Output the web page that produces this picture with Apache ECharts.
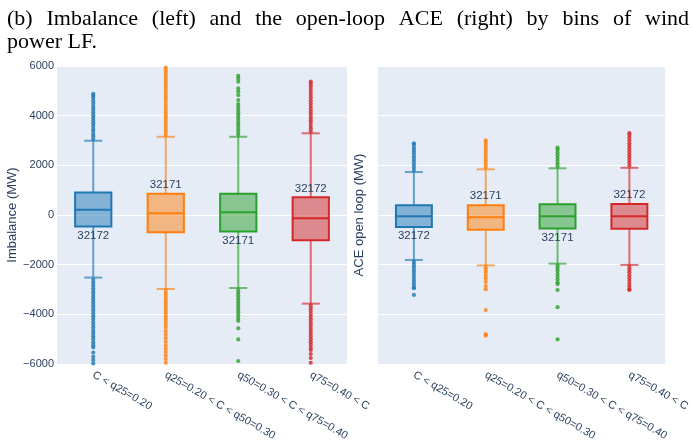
<!DOCTYPE html>
<html>
<head>
<meta charset="utf-8">
<script src="https://cdn.jsdelivr.net/npm/echarts@6/dist/echarts.min.js"></script>
<style>
  html, body { margin: 0; padding: 0; background: #ffffff; }
  #chart { width: 692px; height: 446px; }
</style>
</head>
<body>
<div id="chart"></div>
<script>
// Wind power load-factor bins
const categories = ['C < q25=0.20', 'q25=0.20 < C < q50=0.30', 'q50=0.30 < C < q75=0.40', 'q75=0.40 < C'];
const binColors = ['#1f77b4', '#ff7f0e', '#2ca02c', '#d62728'];
const binFills = ['rgba(31,119,180,0.5)', 'rgba(255,127,14,0.5)', 'rgba(44,160,44,0.5)', 'rgba(214,39,40,0.5)'];

// Sample counts per bin and where the count is printed
const binCounts = [32172, 32171, 32171, 32172];
const countAbove = [false, true, false, true];

// Imbalance (MW): box statistics per bin
const imbLowerFence = [-2520, -2980, -2940, -3570];
const imbQ1 = [-460, -690, -660, -1020];
const imbMedian = [210, 70, 110, -130];
const imbQ3 = [910, 860, 860, 710];
const imbUpperFence = [2990, 3150, 3150, 3290];

// Imbalance (MW): outliers per bin
const imbOutliers = [
  [3060, 3170, 3260, 3380, 3470, 3590, 3690, 3800, 3910, 4020, 4140, 4260, 4370, 4490, 4600, 4720, 4810, 4880,
   -2610, -2720, -2830, -2950, -3060, -3170, -3290, -3400, -3510, -3630, -3740, -3850, -3970, -4080, -4190,
   -4310, -4420, -4530, -4650, -4760, -4880, -4990, -5120, -5240, -5330, -5540, -5710, -5840, -5980],
  [3230, 3340, 3450, 3570, 3680, 3790, 3910, 4020, 4130, 4250, 4360, 4470, 4590, 4700, 4810, 4930, 5040,
   5150, 5270, 5380, 5490, 5610, 5720, 5830, 5940,
   -3060, -3170, -3280, -3400, -3510, -3620, -3740, -3850, -3960, -4080, -4190, -4300, -4420, -4530,
   -4680, -4820, -4960, -5110, -5260, -5390, -5520, -5660, -5800, -5950],
  [3230, 3340, 3450, 3570, 3680, 3790, 3910, 4020, 4130, 4250, 4360, 4470, 4630, 4830, 4970, 5100, 5370,
   5500, 5600,
   -3020, -3130, -3240, -3360, -3470, -3580, -3700, -3810, -3920, -4040, -4150, -4260, -4560, -5010, -5880],
  [3370, 3480, 3590, 3710, 3820, 3930, 4050, 4160, 4270, 4390, 4500, 4610, 4730, 4840, 4950, 5070, 5180,
   5290, 5370,
   -3650, -3760, -3870, -3990, -4100, -4210, -4330, -4440, -4550, -4670, -4780, -4890, -5010, -5120,
   -5230, -5350, -5440, -5600, -5760, -5950]
];

// Open-loop ACE (MW): box statistics per bin
const aceLowerFence = [-1810, -2030, -1960, -2010];
const aceQ1 = [-480, -590, -540, -550];
const aceMedian = [-50, -90, -50, -50];
const aceQ3 = [390, 390, 430, 440];
const aceUpperFence = [1730, 1840, 1880, 1900];

// Open-loop ACE (MW): outliers per bin
const aceOutliers = [
  [1810, 1920, 2030, 2150, 2260, 2370, 2490, 2600, 2710, 2830, 2890,
   -1890, -2000, -2110, -2230, -2340, -2450, -2570, -2680, -2790, -2900, -2950, -3220],
  [1920, 2030, 2150, 2260, 2370, 2490, 2600, 2710, 2830, 2940, 3010,
   -2100, -2210, -2320, -2440, -2550, -2690, -2860, -2990, -3830, -4800, -4860],
  [1960, 2070, 2180, 2300, 2410, 2520, 2640, 2710,
   -2040, -2150, -2260, -2380, -2490, -2600, -2720, -2780, -3020, -3710, -5010],
  [1990, 2100, 2210, 2330, 2440, 2550, 2670, 2780, 2890, 3010, 3120, 3230, 3300,
   -2090, -2200, -2310, -2430, -2540, -2650, -2770, -2880, -2990, -3020]
];

// Value axis range shared by both panels
const yMin = -6000;
const yMax = 6000;
const yStep = 2000;

const captionLine1 = '(b) Imbalance (left) and the open-loop ACE (right) by bins of wind';
const captionLine2 = 'power LF.';

const textColor = '#2a3f5f';
const plotBg = '#e5ecf6';

function boxRows(lo, q1, med, q3, hi) {
  return categories.map((c, i) => [i, lo[i], q1[i], med[i], q3[i], hi[i]]);
}
function outlierRows(groups) {
  const rows = [];
  groups.forEach((vals, i) => vals.forEach(v => rows.push([i, v])));
  return rows;
}

function renderBox(params, api) {
  const i = api.value(0);
  const lo = api.coord([i, api.value(1)]);
  const q1 = api.coord([i, api.value(2)]);
  const md = api.coord([i, api.value(3)]);
  const q3 = api.coord([i, api.value(4)]);
  const hi = api.coord([i, api.value(5)]);
  const bw = api.size([1, 0])[0] * 0.5;
  const cx = q1[0];
  const col = binColors[i];
  const whisker = { stroke: col, lineWidth: 2, opacity: 0.65 };
  const children = [
    { type: 'line', shape: { x1: cx, y1: q3[1], x2: cx, y2: hi[1] }, style: whisker },
    { type: 'line', shape: { x1: cx, y1: q1[1], x2: cx, y2: lo[1] }, style: whisker },
    { type: 'line', shape: { x1: cx - bw / 4, y1: hi[1], x2: cx + bw / 4, y2: hi[1] }, style: whisker },
    { type: 'line', shape: { x1: cx - bw / 4, y1: lo[1], x2: cx + bw / 4, y2: lo[1] }, style: whisker },
    { type: 'rect', shape: { x: cx - bw / 2, y: q3[1], width: bw, height: q1[1] - q3[1] },
      style: { fill: binFills[i], stroke: col, lineWidth: 2 } },
    { type: 'line', shape: { x1: cx - bw / 2, y1: md[1], x2: cx + bw / 2, y2: md[1] },
      style: { stroke: col, lineWidth: 2 } }
  ];
  const above = countAbove[i];
  children.push({
    type: 'text',
    x: cx,
    y: above ? q3[1] - 3 : q1[1] + 3,
    style: {
      text: String(binCounts[i]),
      fill: textColor,
      font: '11.5px "Liberation Sans", Arial, sans-serif',
      align: 'center',
      verticalAlign: above ? 'bottom' : 'top'
    }
  });
  return { type: 'group', children };
}

function minusSign(v) {
  return String(v).replace('-', '\u2212');
}

const grids = [
  { left: 57, right: 345, top: 66, bottom: 82 },
  { left: 378, right: 23, top: 66, bottom: 82 }
];

function xAxisFor(g) {
  return {
    type: 'category',
    gridIndex: g,
    data: categories,
    boundaryGap: true,
    axisLine: { show: false },
    axisTick: { show: false },
    splitLine: { show: false },
    axisLabel: {
      rotate: -30,
      margin: 10,
      color: textColor,
      fontSize: 11,
      fontFamily: '"Liberation Sans", Arial, sans-serif',
      interval: 0
    }
  };
}

function yAxisFor(g, name, showLabels, nameGap) {
  return {
    type: 'value',
    gridIndex: g,
    min: yMin,
    max: yMax,
    interval: yStep,
    name: name,
    nameLocation: 'middle',
    nameGap: nameGap,
    nameTextStyle: { color: textColor, fontSize: 13, fontFamily: '"Liberation Sans", Arial, sans-serif' },
    axisLine: { show: false },
    axisTick: { show: false },
    splitLine: { show: true, lineStyle: { color: '#ffffff', width: 1 } },
    axisLabel: {
      show: showLabels,
      margin: 3,
      color: textColor,
      fontSize: 11,
      fontFamily: '"Liberation Sans", Arial, sans-serif',
      formatter: minusSign
    }
  };
}

// Justified two-line caption above the panels
function captionElements() {
  const font = '22px "Liberation Serif", "Times New Roman", serif';
  const ctx = document.createElement('canvas').getContext('2d');
  ctx.font = font;
  const words = captionLine1.split(' ');
  const widths = words.map(w => ctx.measureText(w).width);
  const x0 = 7, x1 = 689;
  const total = widths.reduce((a, b) => a + b, 0);
  const gap = (x1 - x0 - total) / (words.length - 1);
  const els = [];
  let x = x0;
  words.forEach((w, k) => {
    els.push({ type: 'text', x: x, y: 19.5, silent: true,
      style: { text: w, font: font, fill: '#000000', align: 'left', verticalAlign: 'middle' } });
    x += widths[k] + gap;
  });
  els.push({ type: 'text', x: x0, y: 42.5, silent: true,
    style: { text: captionLine2, font: font, fill: '#000000', align: 'left', verticalAlign: 'middle' } });
  return els;
}

const chart = echarts.init(document.getElementById('chart'), null, { renderer: 'canvas' });
chart.setOption({
  animation: false,
  backgroundColor: '#ffffff',
  grid: grids.map(g => Object.assign({ show: true, backgroundColor: plotBg, borderWidth: 0 }, g)),
  xAxis: [xAxisFor(0), xAxisFor(1)],
  yAxis: [yAxisFor(0, 'Imbalance (MW)', true, 37), yAxisFor(1, 'ACE open loop (MW)', false, 12)],
  graphic: captionElements(),
  series: [
    {
      type: 'scatter', xAxisIndex: 0, yAxisIndex: 0, silent: true,
      symbolSize: 4.2,
      itemStyle: { color: p => binColors[p.data[0]] },
      data: outlierRows(imbOutliers)
    },
    {
      type: 'custom', xAxisIndex: 0, yAxisIndex: 0, silent: true,
      renderItem: renderBox,
      encode: { x: 0, y: [1, 2, 3, 4, 5] },
      data: boxRows(imbLowerFence, imbQ1, imbMedian, imbQ3, imbUpperFence),
      z: 3
    },
    {
      type: 'scatter', xAxisIndex: 1, yAxisIndex: 1, silent: true,
      symbolSize: 4.2,
      itemStyle: { color: p => binColors[p.data[0]] },
      data: outlierRows(aceOutliers)
    },
    {
      type: 'custom', xAxisIndex: 1, yAxisIndex: 1, silent: true,
      renderItem: renderBox,
      encode: { x: 0, y: [1, 2, 3, 4, 5] },
      data: boxRows(aceLowerFence, aceQ1, aceMedian, aceQ3, aceUpperFence),
      z: 3
    }
  ]
});
</script>
</body>
</html>
